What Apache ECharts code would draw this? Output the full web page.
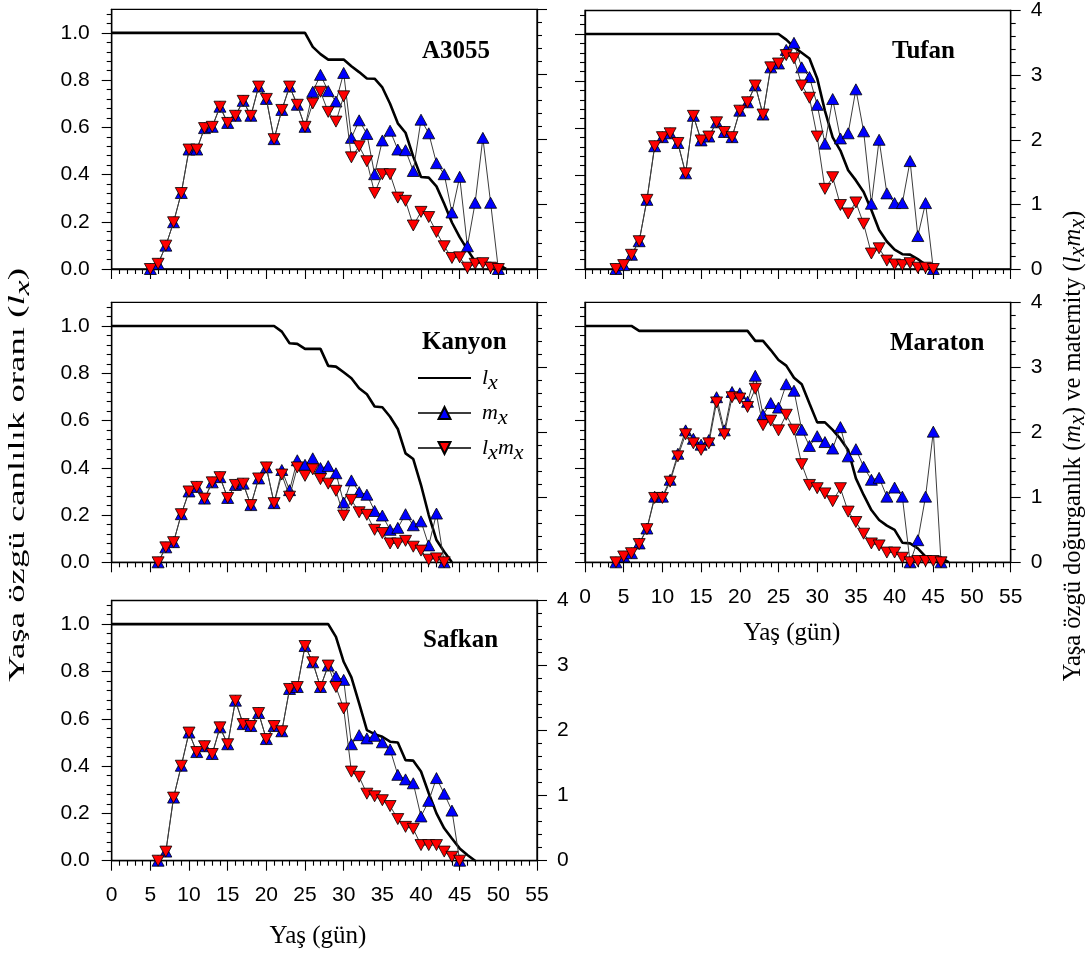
<!DOCTYPE html>
<html><head><meta charset="utf-8">
<script src="https://cdn.jsdelivr.net/npm/echarts@6/dist/echarts.min.js"></script>
<style>html,body{margin:0;padding:0;background:#fff}#c{width:1092px;height:956px}</style>
</head><body><div id="c"></div>
<script>
// ---- tick labels ----
const xTickInterval = 5;
const leftTicks = [0, 0.2, 0.4, 0.6, 0.8, 1.0];
const rightTicks = [0, 1, 2, 3, 4];
const panelNames = ['A3055', 'Tufan', 'Kanyon', 'Maraton', 'Safkan'];

// ---- A3055 ----
const A3055_start = 5;
const A3055_lxmx = [0,0.08,0.36,0.72,1.17,1.84,1.84,2.17,2.19,2.50,2.25,2.36,2.59,2.36,2.81,2.62,2.00,2.45,2.81,2.53,2.19,
  2.55,2.73,2.42,2.27,2.66,1.72,1.89,1.66,1.17,1.46,1.46,1.10,1.05,0.67,0.88,0.80,0.57,0.35,0.17,0.18,0.02,0.08,0.09,0.02,0];
const A3055_mx = [0,0.08,0.36,0.72,1.17,1.84,1.84,2.17,2.19,2.50,2.25,2.36,2.59,2.36,2.81,2.62,2.00,2.45,2.81,2.53,2.19,
  2.73,2.99,2.74,2.58,3.02,2.02,2.29,2.08,1.46,1.98,2.13,1.84,1.83,1.51,2.30,2.09,1.63,1.46,0.87,1.42,0.35,1.02,2.02,1.02,0];
const A3055_lx = [[0,1],[25,1],[26,0.941],[27,0.91],[28,0.887],[29,0.887],[30,0.887],[31,0.859],[32,0.834],[33,0.807],[34,0.806],
  [35,0.769],[36,0.70],[37,0.617],[38,0.577],[39,0.476],[40,0.39],[41,0.387],[42,0.35],[43,0.276],[44,0.197],[45,0.135],
  [46,0.082],[47,0.032],[48,0.025],[49,0.025],[50,0.018],[51,0]];

// ---- Tufan ----
const Tufan_start = 4;
const Tufan_lxmx = [0,0.06,0.22,0.43,1.07,1.90,2.04,2.10,1.95,1.48,2.37,1.99,2.05,2.27,2.12,2.04,2.45,2.58,2.84,2.39,3.12,3.18,
  3.31,3.26,2.84,2.65,2.05,1.24,1.42,0.99,0.86,1.03,0.70,0.24,0.32,0.13,0.07,0.06,0.09,0.02,0.02,0];
const Tufan_mx = [0,0.06,0.22,0.43,1.07,1.90,2.04,2.10,1.95,1.48,2.37,1.99,2.05,2.27,2.12,2.04,2.45,2.58,2.84,2.39,3.12,3.18,
  3.39,3.50,3.12,2.97,2.54,1.94,2.63,2.02,2.10,2.78,2.13,1.01,2.00,1.17,1.02,1.02,1.67,0.51,1.02,0];
const Tufan_lx = [[0,1],[25,1],[26,0.976],[27,0.944],[28,0.92],[29,0.896],[30,0.811],[31,0.673],[32,0.56],[33,0.504],[34,0.42],
  [35,0.377],[36,0.328],[37,0.251],[38,0.166],[39,0.117],[40,0.082],[41,0.063],[42,0.061],[43,0.042],[44,0.018],[45,0]];

// ---- Kanyon ----
const Kanyon_start = 6;
const Kanyon_lxmx = [0,0.23,0.31,0.74,1.09,1.16,0.98,1.23,1.31,0.99,1.19,1.21,0.88,1.29,1.46,0.91,
  1.35,1.01,1.46,1.33,1.43,1.28,1.21,1.10,0.72,0.96,0.77,0.73,0.50,0.45,0.29,0.29,0.33,0.24,0.18,0.04,0.06,0];
const Kanyon_mx = [0,0.23,0.31,0.74,1.09,1.16,0.98,1.23,1.31,0.99,1.19,1.21,0.88,1.29,1.46,0.91,
  1.42,1.11,1.57,1.50,1.60,1.45,1.48,1.37,0.92,1.26,1.08,1.04,0.79,0.72,0.50,0.53,0.74,0.57,0.63,0.26,0.75,0];
const Kanyon_lx = [[0,1],[21,1],[22,0.976],[23,0.927],[24,0.924],[25,0.903],[26,0.903],[27,0.903],[28,0.831],[29,0.828],
  [30,0.804],[31,0.779],[32,0.736],[33,0.711],[34,0.659],[35,0.656],[36,0.616],[37,0.564],[38,0.461],[39,0.437],
  [40,0.327],[41,0.20],[42,0.094],[43,0.045],[44,0]];

// ---- Maraton ----
const Maraton_start = 4;
const Maraton_lxmx = [0,0.09,0.14,0.28,0.51,0.99,0.99,1.24,1.63,1.97,1.83,1.73,1.83,2.46,1.97,2.54,2.52,2.39,2.67,2.11,2.18,
  2.03,2.27,2.04,1.51,1.19,1.14,1.06,0.94,1.14,0.78,0.62,0.44,0.29,0.26,0.15,0.15,0.07,0,0.02,0.02,0.02,0];
const Maraton_mx = [0,0.09,0.14,0.29,0.52,1.01,1.01,1.27,1.67,2.03,1.90,1.81,1.88,2.54,2.03,2.62,2.60,2.47,2.87,2.27,2.45,
  2.38,2.74,2.64,2.04,1.79,1.94,1.85,1.75,2.08,1.63,1.74,1.47,1.27,1.30,1.01,1.15,1.01,0,0.34,1.01,2.01,0];
const Maraton_lx = [[0,1],[6,1],[7,0.979],[21,0.979],[22,0.937],[23,0.937],[24,0.898],[25,0.856],[26,0.832],[27,0.781],
  [28,0.753],[29,0.672],[30,0.592],[31,0.592],[32,0.56],[33,0.522],[34,0.475],[35,0.355],[36,0.285],[37,0.221],
  [38,0.179],[39,0.155],[40,0.137],[41,0.083],[42,0.080],[43,0.059],[44,0.024],[45,0.020],[46,0.020],[47,0]];

// ---- Safkan ----
const Safkan_start = 6;
const Safkan_lxmx = [0,0.14,0.97,1.46,1.97,1.67,1.76,1.64,2.05,1.79,2.46,2.10,2.07,2.27,1.87,2.07,1.99,2.64,2.67,3.30,3.05,2.67,3.00,
  2.67,2.34,1.37,1.29,1.03,0.99,0.93,0.84,0.64,0.52,0.49,0.24,0.24,0.24,0.14,0.06,0];
const Safkan_mx = [0,0.14,0.97,1.46,1.97,1.67,1.76,1.64,2.05,1.79,2.46,2.10,2.07,2.27,1.87,2.07,1.99,2.64,2.67,3.30,3.05,2.67,3.00,
  2.83,2.78,1.79,1.93,1.88,1.92,1.82,1.71,1.32,1.25,1.19,0.68,0.92,1.27,1.03,0.77,0];
const Safkan_lx = [[0,1],[28,1],[29,0.946],[30,0.841],[31,0.775],[32,0.665],[33,0.552],[34,0.535],[35,0.524],[36,0.503],
  [37,0.50],[38,0.425],[39,0.423],[40,0.377],[41,0.285],[42,0.20],[43,0.137],[44,0.094],[45,0.052],[46,0.024],[47,0]];

const panels = [
  {start: A3055_start, mx: A3055_mx, lxmx: A3055_lxmx, lx: A3055_lx},
  {start: Tufan_start, mx: Tufan_mx, lxmx: Tufan_lxmx, lx: Tufan_lx},
  {start: Kanyon_start, mx: Kanyon_mx, lxmx: Kanyon_lxmx, lx: Kanyon_lx},
  {start: Maraton_start, mx: Maraton_mx, lxmx: Maraton_lxmx, lx: Maraton_lx},
  {start: Safkan_start, mx: Safkan_mx, lxmx: Safkan_lxmx, lx: Safkan_lx}
];

// ---- layout ----
const SANS = '"Liberation Sans", Arial, sans-serif';
const SERIF = '"Liberation Serif", "Times New Roman", serif';
const gridBoxes = [
  {left: 111.7, top: 9.3, width: 425.3, height: 259.7},
  {left: 585, top: 9.3, width: 425.7, height: 259.7},
  {left: 111.7, top: 302.3, width: 425.3, height: 260},
  {left: 585, top: 302.3, width: 425.7, height: 260},
  {left: 111.7, top: 600.5, width: 425.3, height: 260.2}
];
const showX = [false, false, false, true, true];
const showLeft = [true, false, true, false, true];
const showRight = [false, true, false, true, true];

const chart = echarts.init(document.getElementById('c'), null, {renderer: 'canvas'});
const grid = [], xAxis = [], yAxis = [], series = [];
const axisLineStyle = {color: '#000', width: 1.3};
const tickStyle = {color: '#000', width: 1.1};
const TICK_FS = 21;

gridBoxes.forEach((g, i) => {
  grid.push(Object.assign({show: true, borderColor: '#000', borderWidth: 1.3, containLabel: false}, g));
  xAxis.push({
    type: 'value', gridIndex: i, min: 0, max: 55, interval: xTickInterval,
    axisLine: {show: true, onZero: false, lineStyle: axisLineStyle},
    axisTick: {show: true, inside: false, length: 10, lineStyle: tickStyle},
    minorTick: {show: true, splitNumber: 5, length: 5, lineStyle: tickStyle},
    splitLine: {show: false},
    axisLabel: {show: showX[i], fontFamily: SANS, fontSize: TICK_FS, color: '#000', margin: 24, showMinLabel: true, showMaxLabel: true}
  });
  yAxis.push({
    type: 'value', gridIndex: i, position: 'left', min: 0, max: 1.1, interval: 0.2,
    axisLine: {show: true, onZero: false, lineStyle: axisLineStyle},
    axisTick: {show: true, inside: false, length: 10, lineStyle: tickStyle, customValues: leftTicks},
    minorTick: {show: true, splitNumber: 5, length: 5, lineStyle: tickStyle},
    splitLine: {show: false},
    axisLabel: {show: showLeft[i], fontFamily: SANS, fontSize: TICK_FS, color: '#000', margin: 22,
      customValues: leftTicks, formatter: v => v > 1.05 ? '' : v.toFixed(1)}
  });
  yAxis.push({
    type: 'value', gridIndex: i, position: 'right', min: 0, max: 4, interval: 1,
    axisLine: {show: true, onZero: false, lineStyle: axisLineStyle},
    axisTick: {show: true, inside: false, length: 10, lineStyle: tickStyle},
    minorTick: {show: true, splitNumber: 5, length: 5, lineStyle: tickStyle},
    splitLine: {show: false},
    axisLabel: {show: showRight[i], fontFamily: SANS, fontSize: TICK_FS, color: '#000', margin: 20}
  });
  const p = panels[i];
  series.push({
    name: 'l_x', type: 'line', xAxisIndex: i, yAxisIndex: 2 * i, data: p.lx,
    symbol: 'none', showSymbol: false, lineStyle: {color: '#000', width: 2.6},
    itemStyle: {color: 'rgba(0,0,0,0)', borderWidth: 0}, z: 2
  });
  series.push({
    name: 'm_x', type: 'line', xAxisIndex: i, yAxisIndex: 2 * i + 1,
    data: p.mx.map((v, k) => [p.start + k, v]),
    symbol: 'triangle', symbolSize: [12, 11],
    lineStyle: {color: '#3c3c3c', width: 1},
    itemStyle: {color: '#0000ff', borderColor: '#000', borderWidth: 0.8}, z: 3
  });
  series.push({
    name: 'l_xm_x', type: 'line', xAxisIndex: i, yAxisIndex: 2 * i + 1,
    data: p.lxmx.map((v, k) => [p.start + k, v]),
    symbol: 'triangle', symbolRotate: 180, symbolSize: [12, 11],
    lineStyle: {color: '#3c3c3c', width: 1},
    itemStyle: {color: '#ff0000', borderColor: '#000', borderWidth: 0.8}, z: 4
  });
});

const legendRich = {
  i: {fontFamily: SERIF, fontStyle: 'italic', fontSize: 22, color: '#000', verticalAlign: 'top', lineHeight: 22},
  s: {fontFamily: SERIF, fontStyle: 'italic', fontSize: 22, color: '#000', verticalAlign: 'top', lineHeight: 22, padding: [5, 0, 0, 0]}
};
const legendLabels = {'l_x': '{i|l}{s|x}', 'm_x': '{i|m}{s|x}', 'l_xm_x': '{i|l}{s|x}{i|m}{s|x}'};

function titleRich(fs) {
  return {
    n: {fontFamily: SERIF, fontSize: fs, fill: '#000', verticalAlign: 'top', lineHeight: fs},
    i: {fontFamily: SERIF, fontStyle: 'italic', fontSize: fs, fill: '#000', verticalAlign: 'top', lineHeight: fs},
    s: {fontFamily: SERIF, fontStyle: 'italic', fontSize: fs - 2, fill: '#000', verticalAlign: 'top', lineHeight: fs, padding: [Math.round(fs * 0.25), 0, 0, 0]}
  };
}

const namePos = [[422, 52], [892, 52], [422, 343], [890, 344], [423, 641]];
const graphic = namePos.map((pp, i) => ({
  type: 'text', x: pp[0], y: pp[1], z: 10,
  style: {text: panelNames[i], font: 'bold 25px ' + SERIF, fill: '#000', align: 'left', verticalAlign: 'middle'}
}));
graphic.push({
  type: 'text', x: 18, y: 475, rotation: Math.PI / 2, scaleX: 1.6, z: 10,
  style: {text: '{n|Yaşa özgü canlılık oranı (}{i|l}{s|x}{n|)}', rich: titleRich(23), align: 'center', verticalAlign: 'middle'}
});
graphic.push({
  type: 'text', x: 1073, y: 446, rotation: Math.PI / 2, z: 10,
  style: {text: '{n|Yaşa özgü doğurganlık (}{i|m}{s|x}{n|) ve maternity (}{i|l}{s|x}{i|m}{s|x}{n|)}', rich: titleRich(24.5), align: 'center', verticalAlign: 'middle'}
});
graphic.push({
  type: 'text', x: 318, y: 936, z: 10,
  style: {text: 'Yaş (gün)', font: '25px ' + SERIF, fill: '#000', align: 'center', verticalAlign: 'middle'}
});
graphic.push({
  type: 'text', x: 792, y: 633, z: 10,
  style: {text: 'Yaş (gün)', font: '25px ' + SERIF, fill: '#000', align: 'center', verticalAlign: 'middle'}
});

chart.setOption({
  animation: false,
  backgroundColor: '#fff',
  grid, xAxis, yAxis, series, graphic,
  legend: {
    data: ['l_x', 'm_x', 'l_xm_x'], orient: 'vertical', left: 417, top: 367,
    itemWidth: 53, itemHeight: 15, itemGap: 8, padding: 0, selectedMode: false,
    formatter: n => legendLabels[n], textStyle: {rich: legendRich, padding: [0, 0, 0, 6]}
  }
});
</script></body></html>
